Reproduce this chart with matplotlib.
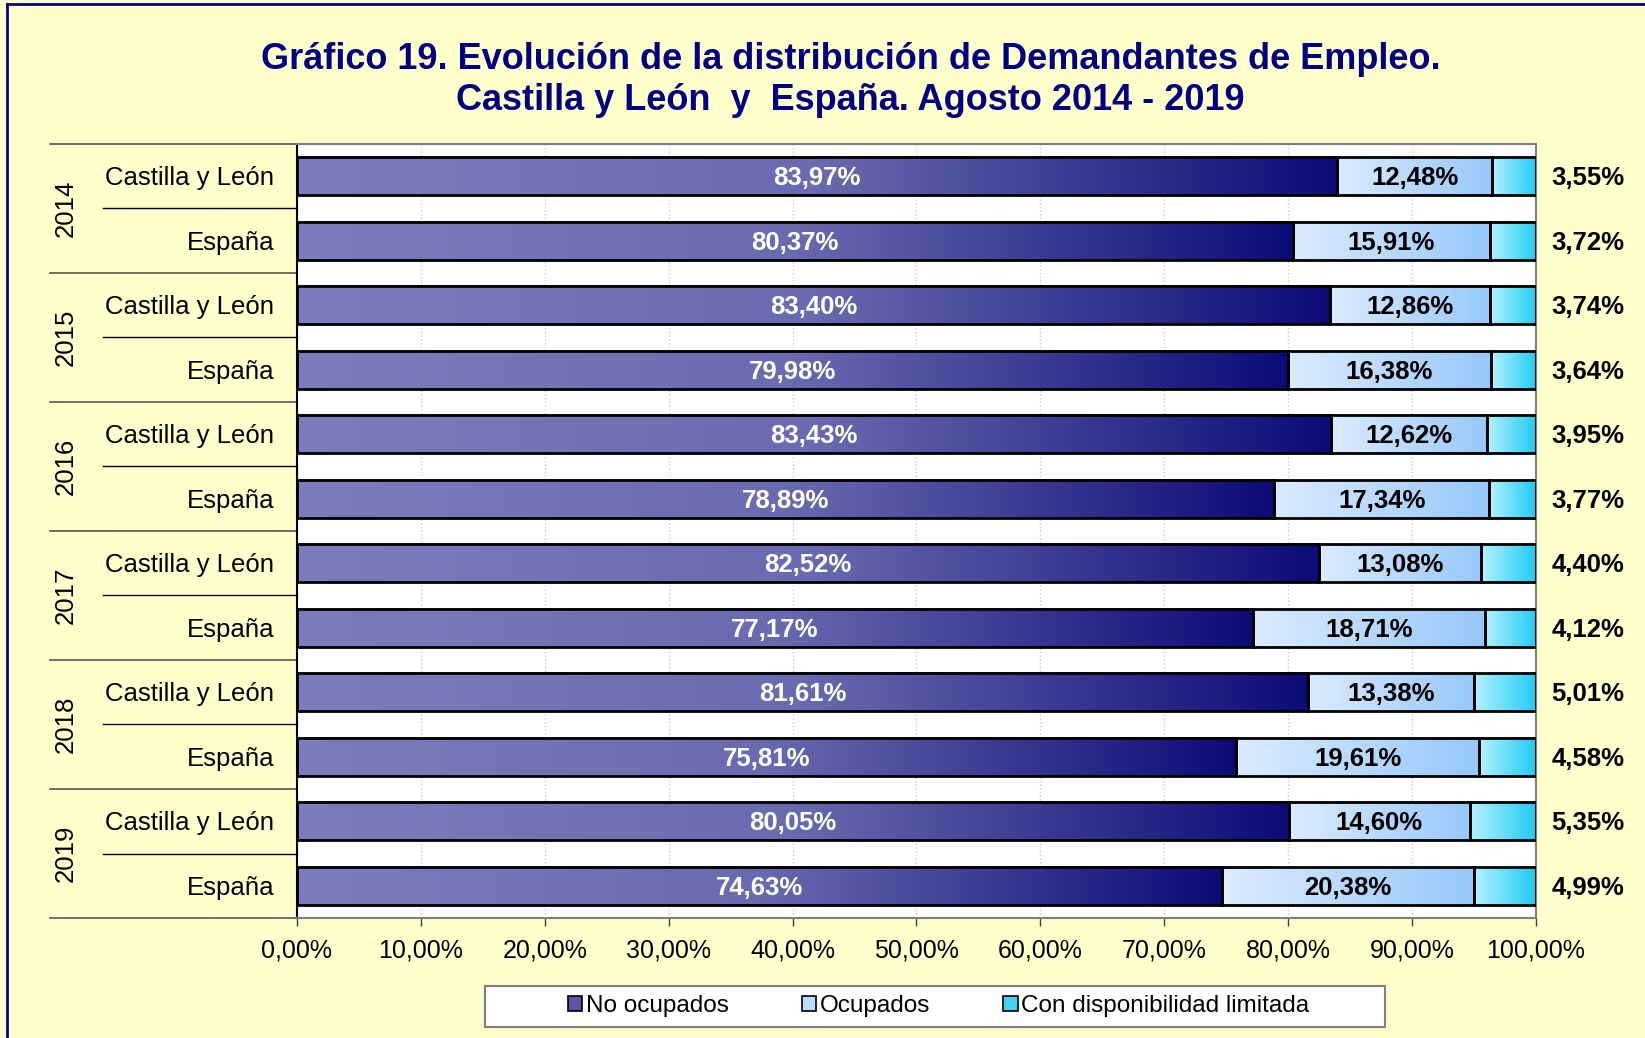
import matplotlib
matplotlib.use("Agg")
import matplotlib.pyplot as plt
import numpy as np
from matplotlib.colors import LinearSegmentedColormap
from matplotlib.patches import Patch, Rectangle
from matplotlib.lines import Line2D
import matplotlib.transforms as mtransforms

plt.rcParams['font.family'] = ['Liberation Sans', 'DejaVu Sans']

# Data (top to bottom)
years = ["2014", "2015", "2016", "2017", "2018", "2019"]
regions = ["Castilla y León", "España"]
no_ocupados = [83.97, 80.37, 83.40, 79.98, 83.43, 78.89,
               82.52, 77.17, 81.61, 75.81, 80.05, 74.63]
ocupados = [12.48, 15.91, 12.86, 16.38, 12.62, 17.34,
            13.08, 18.71, 13.38, 19.61, 14.60, 20.38]
con_disp = [3.55, 3.72, 3.74, 3.64, 3.95, 3.77,
            4.40, 4.12, 5.01, 4.58, 5.35, 4.99]
series_names = ["No ocupados", "Ocupados", "Con disponibilidad limitada"]
x_ticks = [0, 10, 20, 30, 40, 50, 60, 70, 80, 90, 100]
x_ticklabels = ["0,00%", "10,00%", "20,00%", "30,00%", "40,00%", "50,00%",
                "60,00%", "70,00%", "80,00%", "90,00%", "100,00%"]


def fmt(v):
    return f"{v:.2f}".replace(".", ",") + "%"


fig = plt.figure(figsize=(16.45, 10.38), dpi=100, facecolor="#FFFFCC")
ax = fig.add_axes([0.1805, 0.1156, 0.7532, 0.7457])
ax.set_facecolor("white")

n = len(no_ocupados)
ypos = np.arange(n)
bar_h = 0.59

# gradient colormaps per series
cmaps = [
    LinearSegmentedColormap.from_list("noocc", ["#7D7DBD", "#6A6AB0", "#0C0C78"]),
    LinearSegmentedColormap.from_list("occ", ["#DCEBFF", "#96C8FA"]),
    LinearSegmentedColormap.from_list("cond", ["#B4F2FF", "#1ECBF5"]),
]
legend_cols = ["#5656A2", "#BADCFF", "#44D2F2"]

grad = np.linspace(0, 1, 256).reshape(1, -1)
series = [no_ocupados, ocupados, con_disp]
lefts = np.zeros(n)
for vals, cm in zip(series, cmaps):
    vals = np.array(vals)
    for y, l, w in zip(ypos, lefts, vals):
        ax.imshow(grad, extent=(l, l + w, y + bar_h / 2, y - bar_h / 2),
                  aspect="auto", cmap=cm, zorder=2, interpolation="bilinear")
    ax.barh(ypos, vals, left=lefts, height=bar_h, facecolor="none",
            edgecolor="black", linewidth=2.0, zorder=3)
    lefts = lefts + vals

ax.set_xlim(0, 100)
ax.set_ylim(n - 0.5, -0.5)

# value labels
for y, a, b, c in zip(ypos, no_ocupados, ocupados, con_disp):
    ax.text(a / 2, y + 0.03, fmt(a), ha="center", va="center", color="white",
            fontsize=18.5, fontweight="bold", zorder=4)
    ax.text(a + b / 2, y + 0.03, fmt(b), ha="center", va="center", color="black",
            fontsize=18.5, fontweight="bold", zorder=4)
    ax.text(104.2, y + 0.03, fmt(c), ha="center", va="center", color="black",
            fontsize=18.5, fontweight="bold", clip_on=False)

# axes styling
ax.set_xticks(x_ticks)
ax.set_xticklabels(x_ticklabels, fontsize=18)
ax.tick_params(axis="x", direction="out", length=6, width=1, color="#404040", pad=9)
ax.set_yticks([])
ax.grid(axis="x", color="#C8C8C8", linestyle=":", linewidth=1, zorder=0)
ax.set_axisbelow(True)
for s in ["top", "right", "bottom"]:
    ax.spines[s].set_color("#808080")
    ax.spines[s].set_linewidth(1.5)
ax.spines["left"].set_color("black")
ax.spines["left"].set_linewidth(1.5)

# category labels on the left
trans = mtransforms.blended_transform_factory(ax.transAxes, ax.transData)
for i, y in enumerate(ypos):
    ax.text(-0.0186, y + 0.03, regions[i % 2], transform=trans, ha="right",
            va="center", fontsize=18.5, clip_on=False)
for j, yr in enumerate(years):
    ax.text(-0.1864, 2 * j + 0.5, yr, transform=trans, ha="center",
            va="center", rotation=90, fontsize=18.5, clip_on=False)
    top = 2 * j - 0.5
    ax.plot([-0.1993, 0], [top, top], transform=trans, color="#555555",
            lw=1.2, clip_on=False)
    ax.plot([-0.1566, 0], [top + 1, top + 1], transform=trans, color="black",
            lw=1.0, clip_on=False)
ax.plot([-0.1993, 0], [n - 0.5, n - 0.5], transform=trans, color="#555555",
        lw=1.2, clip_on=False)

# title
fig.text(0.517, 0.943, "Gráfico 19. Evolución de la distribución de Demandantes de Empleo.",
         ha="center", va="center", fontsize=26, fontweight="bold", color="#000080")
fig.text(0.517, 0.903, "Castilla y León  y  España. Agosto 2014 - 2019",
         ha="center", va="center", fontsize=26, fontweight="bold", color="#000080")

# legend
fig.patches.append(Rectangle((485 / 1645, 1 - 1027 / 1038), 900 / 1645, 41 / 1038,
                             transform=fig.transFigure, facecolor="white",
                             edgecolor="#808080", linewidth=1.5, zorder=1))
handles = [Patch(facecolor=c, edgecolor="black", linewidth=1.2) for c in legend_cols]
fig.legend(handles, series_names, loc="center", bbox_to_anchor=(0.5705, 0.031),
           ncol=3, frameon=False, fontsize=17.5, handlelength=0.6,
           handleheight=0.6, handletextpad=0.15, columnspacing=3.0)

# outer border (top and left visible)
fig.add_artist(Line2D([7 / 1645, 1], [1 - 4 / 1038, 1 - 4 / 1038],
                      transform=fig.transFigure, color="#000080", lw=2))
fig.add_artist(Line2D([7 / 1645, 7 / 1645], [0, 1 - 4 / 1038],
                      transform=fig.transFigure, color="#000080", lw=2))

fig.savefig("out.png", dpi=100, facecolor=fig.get_facecolor())
